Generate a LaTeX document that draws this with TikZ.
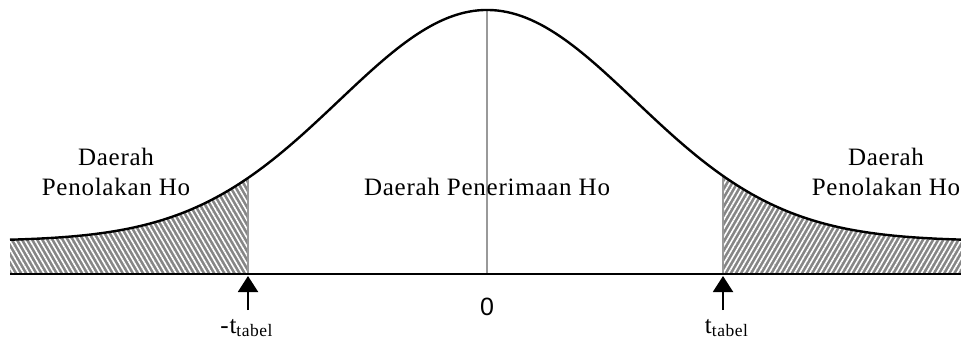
\documentclass[tikz,border=0pt]{standalone}
\usepackage{fontspec}
\setmainfont{Liberation Serif}[LetterSpace=3]
\newfontfamily\zerofont{Liberation Sans}
\usetikzlibrary{arrows.meta,patterns.meta}

\begin{document}
\begin{tikzpicture}[x=0.5pt,y=-0.5pt,>={Triangle[length=8pt,width=10pt]},
  declare function={bell(\t)=241-231*exp(-((\t-487)/100)^2/4.3974);},
  curve/.style={line width=1.2pt,black},
  cutline/.style={line width=1pt,gray!80},
  reject/.style={preaction={fill=gray!95},pattern={Lines[angle=#1,distance=2.2pt,line width=0.8pt]},pattern color=white},
  region/.style={font=\fontsize{12.5}{15}\selectfont,align=center,anchor=base,inner sep=0pt},
  tlabel/.style={font=\fontsize{12.5}{15}\selectfont,anchor=base,inner sep=0pt}]
\useasboundingbox (0,0) rectangle (961,338);
% points on the axis and on the curve
\coordinate (axl) at (10,274);
\coordinate (axr) at (961,274);
\coordinate (zero) at (487,274);
\coordinate (peak) at (487,{bell(487)});
\coordinate (lfoot) at (248,274);
\coordinate (lcut) at (248,{bell(248)});
\coordinate (rfoot) at (723,274);
\coordinate (rcut) at (723,{bell(723)});
% hatched rejection areas
\fill[reject=-60] (axl) -- plot[domain=10:248,samples=60] (\x,{bell(\x)}) -- (lfoot) -- cycle;
\fill[reject=60] (rfoot) -- plot[domain=723:961,samples=60] (\x,{bell(\x)}) -- (axr) -- cycle;
%cut lines
\draw[cutline] (lcut) -- (lfoot);
\draw[cutline] (rcut) -- (rfoot);
\draw[cutline] (peak) -- (zero);
% curve and axis
\draw[curve] plot[domain=10:961,samples=200] (\x,{bell(\x)});
\draw[curve] (axl) -- (axr);
% region labels
\node[region] (lreg) at (116,195) {Daerah\\Penolakan Ho};
\node[region] (creg) at (487,195) {Daerah Penerimaan Ho};
\node[region] (rreg) at (886,195) {Daerah\\Penolakan Ho};
% critical values
\coordinate (larr) at (248,310);
\coordinate (rarr) at (723,310);
\draw[->,line width=1pt,shorten >=1pt] (larr) -- (lfoot);
\draw[->,line width=1pt,shorten >=1pt] (rarr) -- (rfoot);
\node[tlabel] (ltab) at (247,333) {-t\textsubscript{tabel}};
\node[tlabel] (rtab) at (727,333) {t\textsubscript{tabel}};
\node[tlabel,font=\zerofont\fontsize{12.5}{15}\selectfont] (nol) at (487,315) {0};
\end{tikzpicture}
\end{document}
